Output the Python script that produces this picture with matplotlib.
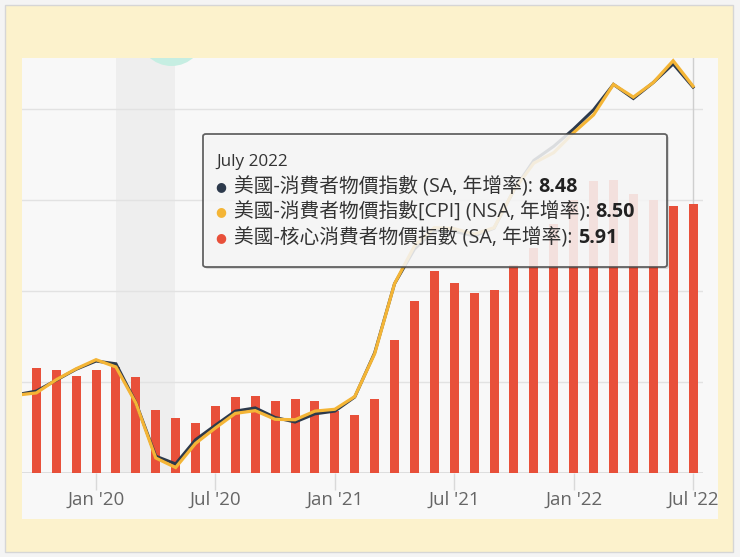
import matplotlib
matplotlib.use("Agg")
import matplotlib.pyplot as plt
from matplotlib.patches import Rectangle, FancyBboxPatch, Ellipse

# ---------------- data ----------------
# month index: Sep 2019 = -1, Oct 2019 = 0 ... Jul 2022 = 33
line_months = list(range(-1, 34))
bar_months = list(range(0, 34))

cpi_sa = [1.72, 1.80, 2.04, 2.28, 2.46, 2.40, 1.55, 0.37, 0.20, 0.73, 1.05, 1.36,
          1.43, 1.22, 1.12, 1.30, 1.36, 1.67, 2.64, 4.16, 4.92, 5.33, 5.31, 5.21,
          5.38, 6.22, 6.87, 7.18, 7.56, 7.98, 8.54, 8.23, 8.58, 8.99, 8.48]
cpi_nsa = [1.71, 1.76, 2.05, 2.29, 2.49, 2.33, 1.54, 0.33, 0.12, 0.65, 0.99, 1.31,
           1.37, 1.18, 1.17, 1.36, 1.40, 1.68, 2.62, 4.16, 4.99, 5.39, 5.37, 5.25,
           5.39, 6.22, 6.81, 7.04, 7.48, 7.87, 8.54, 8.26, 8.58, 9.06, 8.50]
core_sa = [2.31, 2.26, 2.14, 2.26, 2.34, 2.10, 1.38, 1.21, 1.10, 1.47, 1.67, 1.70,
           1.58, 1.63, 1.58, 1.36, 1.27, 1.63, 2.92, 3.78, 4.45, 4.18, 3.96, 4.02,
           4.58, 4.94, 5.48, 6.00, 6.42, 6.44, 6.13, 6.00, 5.87, 5.91]

tick_months = [3, 9, 15, 21, 27, 33]
tick_labels = ["Jan '20", "Jul '20", "Jan '21", "Jul '21", "Jan '22", "Jul '22"]
recession = (4, 6.95)

tooltip_title = "July 2022"
series_names = ["美國-消費者物價指數 (SA, 年增率): ",
                "美國-消費者物價指數[CPI] (NSA, 年增率): ",
                "美國-核心消費者物價指數 (SA, 年增率): "]
series_values = ["8.48", "8.50", "5.91"]

# ---------------- style ----------------
C_DARK = "#2d3a4c"
C_YELLOW = "#f4b536"
C_RED = "#e8503a"
CREAM = "#fcf2cc"
PANEL = "#f8f8f8"
FONT = ["Open Sans", "Noto Sans CJK TC", "DejaVu Sans"]
plt.rcParams["font.family"] = FONT

W, H = 740, 557
fig = plt.figure(figsize=(W / 100, H / 100), dpi=100)
fig.patch.set_facecolor("#f4f4f4")

def fx(px):
    return px / W

def fy(py):
    return 1 - py / H

# outer cream frame
fig.patches.append(Rectangle((fx(5), fy(552)), fx(728), (547) / H, transform=fig.transFigure,
                             facecolor=CREAM, edgecolor="#d6d6d6", lw=1.0, zorder=0))
# white panel
fig.patches.append(Rectangle((fx(22), fy(519)), fx(696), (461) / H, transform=fig.transFigure,
                             facecolor=PANEL, edgecolor="none", zorder=0.5))

ax = fig.add_axes([fx(22), fy(473), fx(681), (473 - 58) / H])
ax.set_zorder(1)
ax.set_facecolor("none")
ax.set_xlim(-0.72, 33.5)
ax.set_ylim(0, 9.12)

# recession band
ax.axvspan(recession[0], recession[1], color="#eeeeee", zorder=0.5, lw=0)

# decorative circle clipped at top
circ = Ellipse((fx(171.5), fy(33)), 66 / W, 66 / H, transform=fig.transFigure,
               facecolor="#c6eee2", edgecolor="none", zorder=0.6)
ax.add_patch(circ)
circ.set_clip_path(ax.patch)

# grid
for g in [2, 4, 6, 8]:
    ax.axhline(g, color="#e2e2e2", lw=1, zorder=0.8)
ax.axhline(0, color="#d9d9d9", lw=1.2, zorder=0.9)

# crosshair
ax.axvline(33, color="#cfcfcf", lw=1, zorder=0.9)

ax.bar(bar_months, core_sa, width=0.45, color=C_RED, zorder=2)
ax.plot(line_months, cpi_sa, color=C_DARK, lw=2.2, zorder=3, solid_joinstyle="miter")
ax.plot(line_months, cpi_nsa, color=C_YELLOW, lw=2.3, zorder=4, solid_joinstyle="miter")

for s in ax.spines.values():
    s.set_visible(False)
ax.set_yticks([])
ax.set_xticks(tick_months)
ax.set_xticklabels(tick_labels, fontsize=13.5, color="#666666")
ax.tick_params(axis="x", length=12, width=1, color="#d9d9d9", pad=1)

# tooltip
fig.patches.append(FancyBboxPatch((fx(205), fy(269)), fx(464), 133 / H,
                                  boxstyle="round,pad=0,rounding_size=0.004",
                                  transform=fig.transFigure, facecolor="#000000", alpha=0.12,
                                  edgecolor="none", zorder=5))
fig.patches.append(FancyBboxPatch((fx(203), fy(267)), fx(464), 133 / H,
                                  boxstyle="round,pad=0,rounding_size=0.004",
                                  transform=fig.transFigure, facecolor="#fafafa", alpha=0.86,
                                  edgecolor="#4a4a4a", lw=1.3, zorder=6))
fig.text(fx(216), fy(162), tooltip_title, fontsize=12.3, color="#333333", va="center",
         ha="left", zorder=7)

renderer = fig.canvas.get_renderer()
bullet_colors = [C_DARK, C_YELLOW, C_RED]
line_y = [187, 212, 238]
for name, val, col, yy in zip(series_names, series_values, bullet_colors, line_y):
    fig.text(fx(221), fy(yy), "●", fontsize=9, color=col, va="center", ha="center",
             family=["DejaVu Sans"], zorder=7)
    t = fig.text(fx(234), fy(yy), name, fontsize=14.2, color="#333333", va="center",
                 ha="left", zorder=7)
    bb = t.get_window_extent(renderer=renderer)
    fig.text(bb.x1 / W, fy(yy), val, fontsize=14.2, color="#222222", va="center",
             ha="left", fontweight="bold", zorder=7)

fig.savefig("out.png", dpi=100, facecolor=fig.get_facecolor())
